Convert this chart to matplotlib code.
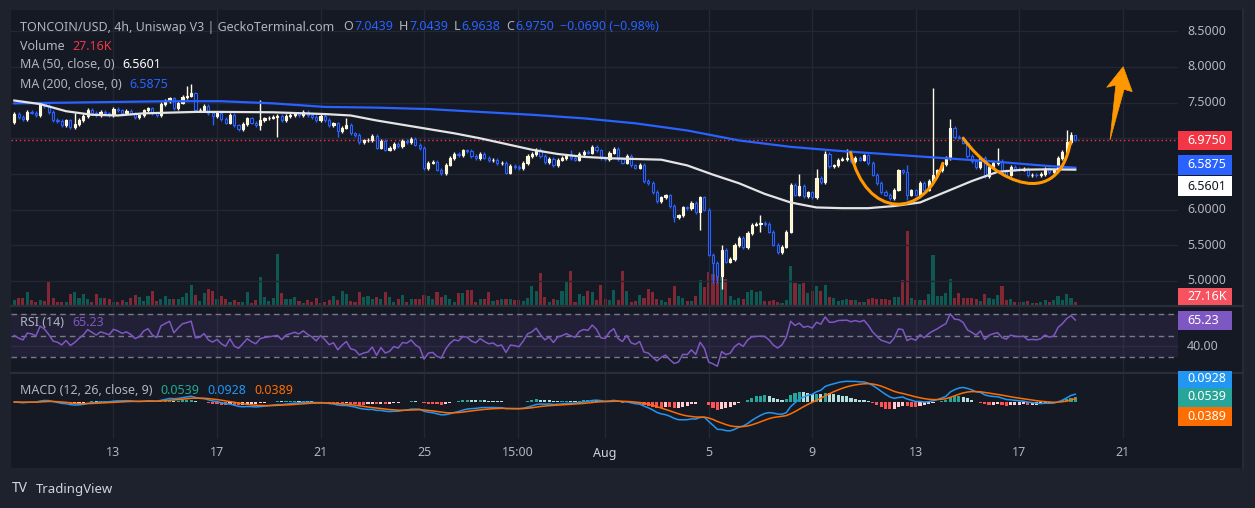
import numpy as np
import pandas as pd
import matplotlib
matplotlib.use('Agg')
import matplotlib.pyplot as plt
from matplotlib.patches import Rectangle, Polygon, PathPatch
from matplotlib.path import Path

plt.rcParams['font.family'] = ['Noto Sans', 'DejaVu Sans']

# 4h closes (one row = one day, 6 candles)
closes = [
    7.34, 7.30, 7.27, 7.37, 7.36, 7.33,
    7.49, 7.45, 7.37, 7.26, 7.24, 7.19,
    7.25, 7.16, 7.20, 7.26, 7.31, 7.40,
    7.36, 7.32, 7.37, 7.35, 7.33, 7.41,
    7.39, 7.36, 7.38, 7.35, 7.30, 7.32,
    7.39, 7.42, 7.35, 7.32, 7.48, 7.52,
    7.56, 7.42, 7.50, 7.58, 7.60, 7.63,
    7.39, 7.40, 7.46, 7.35, 7.31, 7.35,
    7.27, 7.22, 7.33, 7.18, 7.13, 7.20,
    7.28, 7.22, 7.18, 7.26, 7.28, 7.29,
    7.30, 7.31, 7.25, 7.31, 7.33, 7.35,
    7.33, 7.37, 7.33, 7.30, 7.25, 7.31,
    7.26, 7.19, 7.21, 7.10, 7.15, 7.19,
    7.07, 7.05, 6.95, 6.97, 6.98, 7.03,
    6.87, 6.96, 6.84, 6.86, 6.92, 6.89,
    6.96, 6.95, 6.99, 6.91, 6.86, 6.58,
    6.66, 6.67, 6.56, 6.51, 6.63, 6.72,
    6.78, 6.76, 6.83, 6.82, 6.75, 6.72,
    6.78, 6.73, 6.69, 6.70, 6.65, 6.66,
    6.52, 6.61, 6.60, 6.58, 6.65, 6.75,
    6.78, 6.84, 6.75, 6.67, 6.71, 6.62,
    6.70, 6.72, 6.75, 6.72, 6.70, 6.78,
    6.81, 6.80, 6.88, 6.83, 6.72, 6.71,
    6.80, 6.85, 6.71, 6.66, 6.75, 6.62,
    6.59, 6.63, 6.40, 6.37, 6.25, 6.12,
    6.17, 6.20, 6.05, 5.90, 5.92, 6.03,
    6.02, 6.09, 5.96, 6.17, 6.00, 5.37,
    5.25, 5.07, 5.44, 5.27, 5.31, 5.50,
    5.60, 5.47, 5.67, 5.79, 5.80, 5.81,
    5.80, 5.69, 5.51, 5.40, 5.48, 5.69,
    6.35, 6.21, 6.33, 6.19, 6.24, 6.18,
    6.45, 6.39, 6.78, 6.61, 6.62, 6.70,
    6.71, 6.72, 6.68, 6.73, 6.70, 6.76,
    6.65, 6.49, 6.37, 6.25, 6.21, 6.16,
    6.28, 6.55, 6.53, 6.21, 6.27, 6.21,
    6.37, 6.28, 6.40, 6.48, 6.55, 6.64,
    6.72, 7.15, 7.02, 7.01, 6.94, 6.75,
    6.68, 6.60, 6.73, 6.47, 6.60, 6.65,
    6.68, 6.54, 6.49, 6.60, 6.57, 6.56,
    6.57, 6.48, 6.49, 6.48, 6.50, 6.57,
    6.53, 6.55, 6.72, 6.81, 6.95, 7.0439,
    6.975,
]
first_open = 7.23

# long wicks that stand out (candle index: price)
high_marks = {14: 7.35, 40: 7.73, 41: 7.76, 57: 7.54, 77: 7.28, 129: 6.84,
              164: 5.51, 173: 5.93, 182: 6.50, 186: 6.57, 188: 6.82, 193: 6.85,
              194: 6.84, 207: 6.63, 213: 7.71, 217: 7.27, 228: 6.86, 244: 7.11,
              245: 7.09, 246: 7.0439}
low_marks = {14: 7.13, 46: 7.18, 57: 7.12, 61: 7.02, 75: 7.02, 153: 5.82,
             159: 5.72, 162: 4.97, 163: 4.97, 164: 4.88, 173: 5.69, 207: 6.13,
             246: 6.9638}

# volume in K
volumes = [
    50, 67, 67, 127, 50, 33, 50, 43, 240, 67, 27, 27, 27, 110, 127, 67, 110, 57, 27, 110,
    67, 67, 57, 33, 27, 50, 33, 67, 100, 77, 43, 90, 140, 43, 57, 90, 57, 57, 57, 83,
    123, 200, 100, 43, 117, 160, 140, 57,
    90, 60, 33, 50, 33, 33, 130, 23, 50, 283, 77, 43, 67, 510, 123, 60, 60, 77, 43, 23,
    50, 33, 67, 23, 33, 50, 90, 50, 140, 110, 43, 33, 130, 77, 90, 57, 77, 60, 130, 83,
    33, 60, 100, 33, 60, 60, 60, 100,
    90, 57, 130, 77, 100, 60, 33, 117, 117, 150, 150, 33, 60, 60, 130, 43, 50, 60, 60, 60,
    50, 50, 43, 67, 190, 143, 317, 77, 27, 60, 50, 143, 240, 340, 33, 107, 90, 143, 127, 50,
    200, 60, 50, 150, 50, 340, 143, 33, 43, 100,
    67, 157, 127, 60, 50, 27, 67, 190, 90, 67, 40, 40, 90, 250, 177, 327, 307, 383, 283, 257,
    90, 50, 67, 60, 127, 150, 127, 140, 40, 43, 50, 33, 23, 50, 390, 217, 210, 217, 117, 143,
    190, 140, 200, 83, 67, 43, 50, 57,
    50, 50, 30, 33, 60, 67, 60, 60, 60, 50, 77, 77, 250, 740, 67, 50, 50, 50, 110, 500,
    90, 90, 123, 257, 67, 123, 67, 67, 67, 60, 40, 107, 67, 60, 100, 190, 50, 60, 27, 27,
    27, 40, 20, 20, 33, 50, 33, 50, 90, 50, 110, 67, 27.16,
]

# moving averages read every 6-12 candles
ma50_idx = [0, 6, 12, 18, 24, 30, 36, 42, 48, 60, 72, 78, 84, 90, 96, 102, 108, 114, 120,
            126, 132, 138, 144, 150, 156, 162, 168, 174, 180, 186, 192, 198, 204, 210,
            216, 222, 228, 234, 240, 246]
ma50_val = [7.53, 7.48, 7.38, 7.33, 7.32, 7.35, 7.36, 7.37, 7.37, 7.365, 7.34, 7.32, 7.25,
            7.19, 7.13, 7.07, 7.00, 6.92, 6.84, 6.78, 6.74, 6.72, 6.71, 6.70, 6.62, 6.49,
            6.37, 6.22, 6.10, 6.03, 6.02, 6.02, 6.05, 6.10, 6.25, 6.40, 6.53, 6.56,
            6.565, 6.5601]
ma200_idx = [0, 12, 24, 36, 48, 60, 72, 84, 96, 108, 120, 132, 144, 156, 168, 180, 192,
             204, 216, 228, 240, 246]
ma200_val = [7.49, 7.50, 7.51, 7.52, 7.52, 7.49, 7.44, 7.43, 7.41, 7.37, 7.33, 7.28, 7.21,
             7.11, 6.97, 6.88, 6.82, 6.77, 6.72, 6.67, 6.61, 6.5875]

tick_idx = [23, 47, 71, 95, 116.75, 137, 161, 185, 209, 233, 257]
tick_lab = ['13', '17', '21', '25', '15:00', 'Aug', '5', '9', '13', '17', '21']
price_ticks = [5.0, 5.5, 6.0, 6.5, 7.0, 7.5, 8.0, 8.5]
price_labels = [5.0, 5.5, 6.0, 7.5, 8.0, 8.5]   # 6.5 and 7.0 sit under the value tags

# hand-drawn annotations (candle index, price)
cup1 = [(193.9, 6.80), (197.5, 5.86), (211.0, 5.86), (215.3, 6.65)]
cup2 = [(220.0, 7.00), (228.0, 6.35), (242.0, 6.00), (244.9, 6.95)]
arrow_pts = [(254.05, 6.976), (255.4, 7.748), (253.3, 7.715), (257.1, 8.004),
             (259.2, 7.654), (257.3, 7.687)]

W, H = 1255, 508
BG = '#1e222d'
PANE = '#151924'
GRID = '#232733'
SEP = '#2a2e39'
TXT = '#b2b5be'
UP = '#fff4b8'
UP_EDGE = '#fffbe8'
DN = '#2962ff'

fig = plt.figure(figsize=(W / 100, H / 100), dpi=100)
fig.patch.set_facecolor(BG)
fig.patches.append(Rectangle((11 / W, 1 - 468 / H), (1243 - 11) / W, (468 - 10) / H,
                             transform=fig.transFigure, fc=PANE, ec='none', zorder=0))

X0, X1 = (11 - 14.3) / 4.313, (1178 - 14.3) / 4.313


def px_axes(x0, y0, x1, y1, z=1):
    ax = fig.add_axes([x0 / W, 1 - y1 / H, (x1 - x0) / W, (y1 - y0) / H], zorder=z)
    ax.set_facecolor('none')
    for s in ax.spines.values():
        s.set_visible(False)
    ax.set_xticks([])
    ax.set_yticks([])
    ax.set_xlim(X0, X1)
    return ax


ax_v = px_axes(11, 10, 1178, 305, 1)
ax_p = px_axes(11, 10, 1178, 305, 2)
ax_r = px_axes(11, 305, 1178, 373, 2)
ax_m = px_axes(11, 373, 1178, 438, 2)
ax_v.set_ylim(0, 2950)
ax_p.set_ylim(4.662, 8.7994)
ax_r.set_ylim(15.12, 78.37)
ax_m.set_ylim(-0.404, 0.326)

for ax in (ax_p, ax_r, ax_m):
    for t in tick_idx:
        ax.axvline(t, color=GRID, lw=1, zorder=0)
for p in price_ticks:
    ax_p.axhline(p, color=GRID, lw=1, zorder=0)
ax_r.axhline(40, color=GRID, lw=1, zorder=0)

c = np.array(closes)
o = np.array([first_open] + closes[:-1])
x = np.arange(len(c))
up = c >= o
top = np.maximum(o, c)
bot = np.minimum(o, c)
hi = top + 0.025
lo = bot - 0.025
for k, v in high_marks.items():
    hi[k] = v
for k, v in low_marks.items():
    lo[k] = v

# volume
vol = np.array(volumes)
ax_v.bar(x[up], vol[up], width=0.72, color=(8 / 255, 153 / 255, 129 / 255, 0.5), lw=0)
ax_v.bar(x[~up], vol[~up], width=0.72, color=(242 / 255, 54 / 255, 69 / 255, 0.5), lw=0)

# candles
ax_p.vlines(x[up], lo[up], hi[up], color=UP_EDGE, lw=1, zorder=3)
ax_p.vlines(x[~up], lo[~up], hi[~up], color=DN, lw=1, zorder=3)
h = np.maximum(top - bot, 0.006)
ax_p.bar(x[up], h[up], bottom=bot[up], width=0.5, color=UP, edgecolor=UP_EDGE, lw=0.8, zorder=4)
ax_p.bar(x[~up], h[~up], bottom=bot[~up], width=0.5, color=PANE, edgecolor=DN, lw=0.8, zorder=4)

ax_p.plot(ma200_idx, ma200_val, color='#2962ff', lw=1.6, zorder=5)
ax_p.plot(ma50_idx, ma50_val, color='#e4e4e4', lw=1.6, zorder=5)
ax_p.axhline(c[-1], color='#f23645', lw=1, ls=(0, (1, 2)), zorder=2)

# cup and handle + arrow
for pts in (cup1, cup2):
    path = Path(pts, [Path.MOVETO, Path.CURVE4, Path.CURVE4, Path.CURVE4])
    ax_p.add_patch(PathPatch(path, fc='none', ec='#ff9800', lw=2.2, capstyle='round', zorder=6))
ax_p.add_patch(Polygon(arrow_pts, closed=True, fc='#ff9800', ec='#ff9800', lw=0.5, zorder=6))

# RSI (Wilder, 14)
d = np.diff(c)
ag = al = np.mean(np.abs(d[:14])) / 2
rsi = [50.0]
for v in d:
    ag = (ag * 13 + max(v, 0)) / 14
    al = (al * 13 + max(-v, 0)) / 14
    rsi.append(100 - 100 / (1 + ag / al))
ax_r.axhspan(30, 70, color='#7e57c2', alpha=0.12, lw=0, zorder=0)
for lvl in (70, 50, 30):
    ax_r.axhline(lvl, color='#787b86', lw=1, ls=(0, (4, 3)), zorder=1)
ax_r.plot(x, rsi, color='#7e57c2', lw=1.1, zorder=3)

# MACD 12 26 9
s = pd.Series(c)
macd = s.ewm(span=12, adjust=False).mean() - s.ewm(span=26, adjust=False).mean()
sig = macd.ewm(span=9, adjust=False).mean()
hist = (macd - sig).values
cols = []
for i, hv in enumerate(hist):
    prev = hist[i - 1] if i else 0
    if hv >= 0:
        cols.append('#26a69a' if hv >= prev else '#b2dfdb')
    else:
        cols.append('#ff5252' if hv < prev else '#ffcdd2')
ax_m.bar(x, hist, width=0.72, color=cols, lw=0, zorder=2)
ax_m.plot(x, macd, color='#2196f3', lw=1.1, zorder=3)
ax_m.plot(x, sig, color='#ff6d00', lw=1.1, zorder=3)

# pane separators and right border
for yy in (305.5, 373):
    fig.add_artist(plt.Line2D([11 / W, 1243 / W], [1 - yy / H] * 2, color=SEP, lw=1.6,
                              transform=fig.transFigure, zorder=10))
fig.add_artist(plt.Line2D([1243 / W] * 2, [1 - 10 / H, 1 - 468 / H], color=SEP, lw=1.2,
                          transform=fig.transFigure, zorder=10))

# x labels
tr = ax_m.get_xaxis_transform()
for t, lab in zip(tick_idx, tick_lab):
    ax_m.text(t, -15 / 65, lab, transform=tr, ha='center', va='center', fontsize=9,
              color='#d1d4dc' if lab == 'Aug' else TXT, clip_on=False)

# price axis labels
for p in price_labels:
    yy = 67 + (8.0 - p) * 71.3
    fig.text(1187 / W, 1 - yy / H, f'{p:.4f}', fontsize=9, color=TXT, va='center', zorder=11)
fig.text(1187 / W, 1 - 346 / H, '40.00', fontsize=9, color=TXT, va='center', zorder=11)


def tag(yc, text, bg, fg='white', hgt=19):
    fig.patches.append(Rectangle((1178 / W, 1 - (yc + hgt / 2) / H), 54 / W, hgt / H,
                                 transform=fig.transFigure, fc=bg, ec='none', zorder=12))
    fig.text(1187 / W, 1 - yc / H, text, fontsize=9, color=fg, va='center',
             fontweight='bold', zorder=13)


tag(67 + (8.0 - c[-1]) * 71.3, '6.9750', '#f23645')
tag(165, '6.5875', '#2962ff')
tag(186, '6.5601', '#ffffff', '#131722')
tag(296, '27.16K', '#f7525f', hgt=17)
tag(320, '65.23', '#7e57c2')
tag(379, '0.0928', '#2196f3', hgt=17)
tag(397, '0.0539', '#26a69a')
tag(416, '0.0389', '#ff6d00')

# legend lines
fig.canvas.draw()
rend = fig.canvas.get_renderer()


def chain(x0, y0, parts, size=9.0):
    xx = x0
    for text, color, gap, *bold in parts:
        t = fig.text(xx / W, 1 - y0 / H, text, fontsize=size, color=color, va='center',
                     fontweight='bold' if bold else 'normal', zorder=11)
        xx = t.get_window_extent(renderer=rend).x1 + gap


BLUE = '#2962ff'
chain(20, 27, [('TONCOIN/USD, 4h, Uniswap V3 | GeckoTerminal.com', TXT, 9),
               ('O', TXT, 1), ('7.0439', BLUE, 6), ('H', TXT, 1), ('7.0439', BLUE, 6),
               ('L', TXT, 1), ('6.9638', BLUE, 6), ('C', TXT, 1), ('6.9750', BLUE, 6),
               ('\u22120.0690 (\u22120.98%)', BLUE, 0)])
chain(20, 46, [('Volume', TXT, 8), ('27.16K', '#f23645', 0)])
chain(20, 65, [('MA (50, close, 0)', TXT, 8), ('6.5601', '#ffffff', 0, True)])
chain(20, 84, [('MA (200, close, 0)', TXT, 8), ('6.5875', BLUE, 0)])
chain(20, 322, [('RSI (14)', TXT, 8), ('65.23', '#7e57c2', 0)])
chain(20, 390, [('MACD (12, 26, close, 9)', TXT, 8), ('0.0539', '#22ab94', 8),
                ('0.0928', '#2196f3', 8), ('0.0389', '#ff6d00', 0)])

fig.text(12 / W, 1 - 489 / H, 'TV', fontsize=10, fontweight='heavy', color='#d1d4dc',
         va='center')
fig.text(36 / W, 1 - 489 / H, 'TradingView', fontsize=9.5, fontweight='bold',
         color='#d1d4dc', va='center')

fig.savefig('out.png', dpi=100, facecolor=fig.get_facecolor())
